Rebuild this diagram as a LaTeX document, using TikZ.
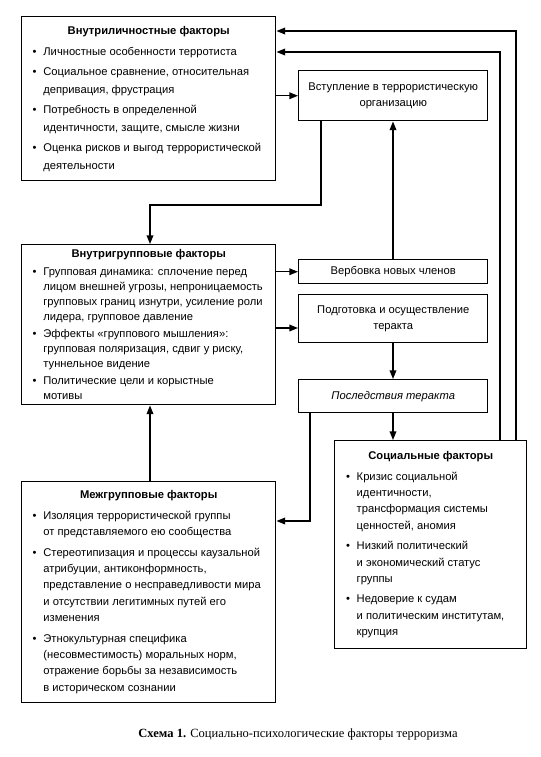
\documentclass[tikz,border=0pt]{standalone}
\usepackage{fontspec}
\setmainfont{Liberation Sans}
\newfontfamily\capfont{Liberation Serif}
\usetikzlibrary{arrows.meta}

\newlength{\itemgap}
\newcommand{\boxfont}[1]{\fontsize{8.4pt}{#1}\selectfont}
\newcommand{\fbody}[2]{\parbox{#1}{\raggedright #2}}
\newcommand{\ftitle}[1]{{\centering\bfseries #1\par}}
\newcommand{\fitem}[1]{\par\vspace{\itemgap}{\leftskip=8pt\noindent\llap{\makebox[8pt][l]{\textbullet}}#1\par}}

\tikzset{
  factor/.style={draw, line width=1.1pt, inner sep=0pt, anchor=north west, font=\boxfont{#1}},
  stage/.style={draw, line width=1.1pt, inner sep=0pt, anchor=north west, align=center,
    minimum width=141.75pt, font=\boxfont{12pt}},
  arr/.style={line width=1pt, -{Triangle[length=6.5pt,width=5pt]}},
}

\begin{document}
\begin{tikzpicture}[x=0.75pt,y=0.75pt,yscale=-1,xscale=1]
\useasboundingbox (0,0) rectangle (541,757);

% Text Node
\node (intra) [factor=13pt, minimum width=190.5pt, minimum height=123pt] at (21,16) {\setlength{\itemgap}{2.5pt}\fbody{174pt}{%
\ftitle{Внутриличностные факторы}
\fitem{Личностные особенности терротиста}
\fitem{Социальное сравнение, относительная\\депривация, фрустрация}
\fitem{Потребность в определенной\\идентичности, защите, смысле жизни}
\fitem{Оценка рисков и выгод террористической\\деятельности}}};
% Text Node
\node (join) [stage, minimum height=37.5pt] at (298,70) {Вступление в террористическую\\организацию};
% Text Node
\node (ingroup) [factor=11.2pt, minimum width=190.5pt, minimum height=120pt] at (21,244) {\setlength{\itemgap}{1.8pt}\fbody{174pt}{%
\ftitle{Внутригрупповые факторы}
\fitem{Групповая динамика: сплочение перед\\лицом внешней угрозы, непроницаемость\\групповых границ изнутри, усиление роли\\лидера, групповое давление}
\fitem{Эффекты «группового мышления»:\\групповая поляризация, сдвиг у риску,\\туннельное видение}
\fitem{Политические цели и корыстные\\мотивы}}};
% Text Node
\node (recruit) [stage, minimum height=18pt] at (298,259) {Вербовка новых членов};
% Text Node
\node (prep) [stage, minimum height=36pt] at (298,294) {Подготовка и осуществление\\теракта};
% Text Node
\node (effect) [stage, minimum height=24.75pt] at (298,379) {\itshape Последствия теракта};
% Text Node
\node (social) [factor=12.3pt, minimum width=144pt, minimum height=156pt] at (334,440) {\setlength{\itemgap}{3pt}\fbody{127pt}{%
\ftitle{Социальные факторы}
\fitem{Кризис социальной\\идентичности,\\трансформация системы\\ценностей, аномия}
\fitem{Низкий политический\\и экономический статус\\группы}
\fitem{Недоверие к судам\\и политическим институтам,\\крупция}}};
% Text Node
\node (outgroup) [factor=12.3pt, minimum width=190.5pt, minimum height=165.75pt] at (21,481) {\setlength{\itemgap}{3pt}\fbody{174pt}{%
\ftitle{Межгрупповые факторы}
\fitem{Изоляция террористической группы\\от представляемого ею сообщества}
\fitem{Стереотипизация и процессы каузальной\\атрибуции, антиконформность,\\представление о несправедливости мира\\и отсутствии легитимных путей его\\изменения}
\fitem{Этнокультурная специфика\\(несовместимость) моральных норм,\\отражение борьбы за независимость\\в историческом сознании}}};
% Text Node
\node (caption) at (298,734) {\capfont\fontsize{9.4pt}{11pt}\selectfont\textbf{Схема 1.} Социально-психологические факторы терроризма};

%Straight Lines
\draw [arr] (516,0 |- social.north) |- (intra.east |- 0,31);
\draw [arr] (500,0 |- social.north) |- (intra.east |- 0,52);
\draw [arr] (intra.east |- join.west) -- (join.west);
\draw [arr] (321,0 |- join.south) -- (321,205) -| (150,0 |- ingroup.north);
\draw [arr] (ingroup.east |- recruit.west) -- (recruit.west);
\draw [arr] (393,0 |- recruit.north) -- (393,0 |- join.south);
\draw [arr] (ingroup.east |- 0,328) -- (prep.west |- 0,328);
\draw [arr] (393,0 |- prep.south) -- (393,0 |- effect.north);
\draw [arr] (393,0 |- effect.south) -- (393,0 |- social.north);
\draw [arr] (310,0 |- effect.south) |- (outgroup.east |- 0,521);
\draw [arr] (150,0 |- outgroup.north) -- (150,0 |- ingroup.south);
\end{tikzpicture}
\end{document}
